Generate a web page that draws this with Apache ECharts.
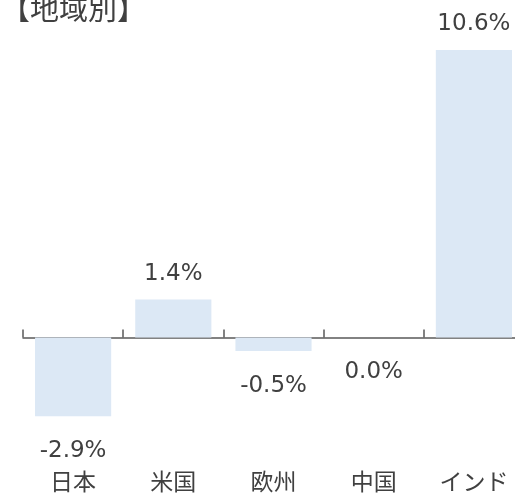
<!DOCTYPE html>
<html>
<head>
<meta charset="utf-8">
<script src="https://cdn.jsdelivr.net/npm/echarts@6/dist/echarts.min.js"></script>
<style>
  html, body { margin: 0; padding: 0; background: #ffffff; }
  #chart { width: 515px; height: 496px; }
</style>
</head>
<body>
<div id="chart"></div>
<script>
// 地域別の伸び率（%）
const categories = ['日本', '米国', '欧州', '中国', 'インド'];
const values = [-2.9, 1.4, -0.5, 0.0, 10.6];
const titleText = '【地域別】';

const FONT = '"DejaVu Sans", "Noto Sans CJK JP", sans-serif';
const TEXT = '#404040';
const AXIS = '#595959';

const chart = echarts.init(document.getElementById('chart'));
chart.setOption({
  animation: false,
  title: {
    text: titleText,
    left: -4,
    top: -7,
    textStyle: { fontFamily: FONT, fontSize: 29, fontWeight: 'normal', color: TEXT }
  },
  grid: { left: 23, right: -9, top: 12, bottom: 50, containLabel: false, outerBoundsMode: 'none' },
  xAxis: [
    {
      // baseline at zero with inward ticks
      type: 'category',
      data: categories,
      axisLine: { onZero: true, lineStyle: { color: AXIS, width: 1.5 } },
      axisTick: { show: true, inside: true, length: 8, lineStyle: { color: AXIS, width: 1.5 } },
      axisLabel: { show: false }
    },
    {
      // category names along the bottom
      type: 'category',
      data: categories,
      position: 'bottom',
      axisLine: { show: false, onZero: false },
      axisTick: { show: false },
      axisLabel: { margin: 27, fontFamily: FONT, fontSize: 23, color: TEXT, hideOverlap: false }
    }
  ],
  yAxis: {
    type: 'value',
    min: -4,
    max: 12,
    show: false,
    splitLine: { show: false }
  },
  series: [{
    type: 'bar',
    xAxisIndex: 0,
    data: values.map(v => ({
      value: v,
      label: { position: v <= 0 ? 'bottom' : 'top', distance: v <= 0 ? 23 : 14 }
    })),
    barWidth: '76%',
    itemStyle: { color: '#dce8f5' },
    label: {
      show: true,
      fontFamily: FONT,
      fontSize: 23,
      color: TEXT,
      formatter: p => p.value.toFixed(1) + '%'
    }
  }]
});
</script>
</body>
</html>
